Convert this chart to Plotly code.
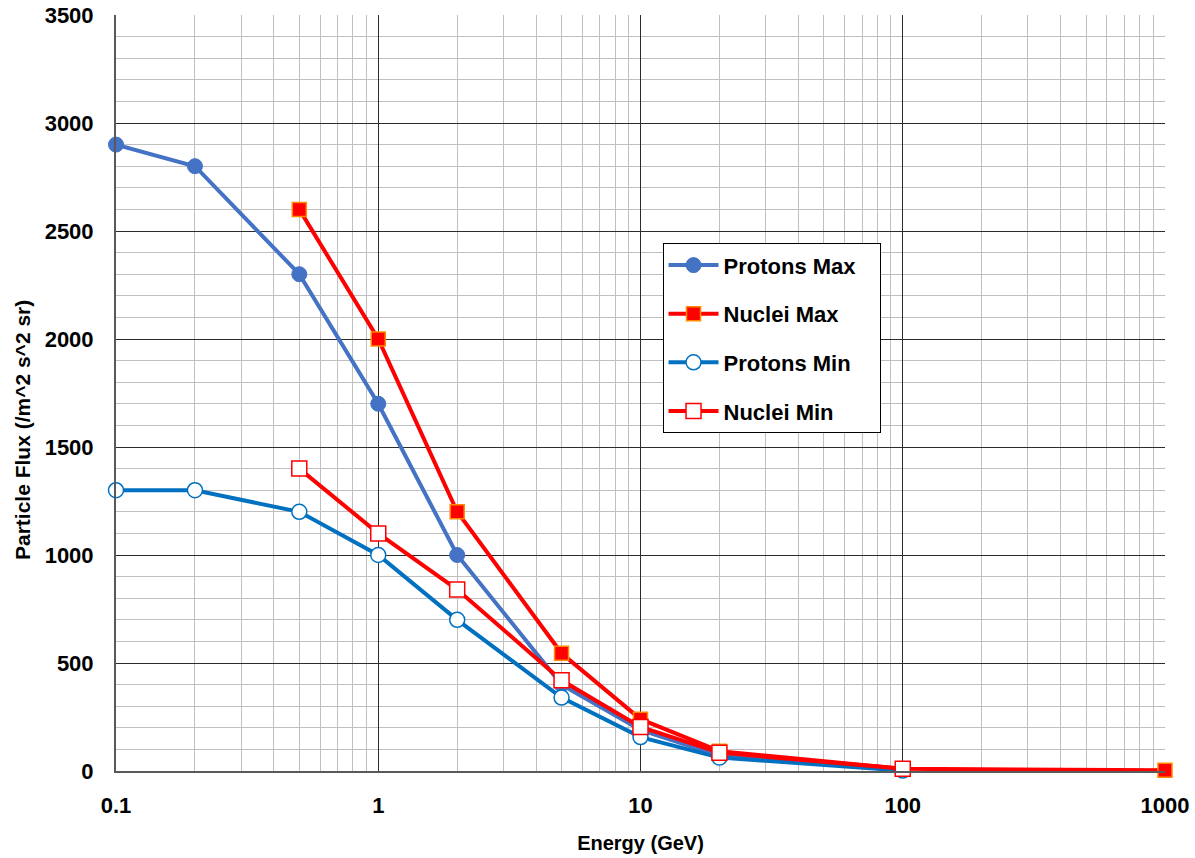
import plotly.graph_objects as go

# Data
energy_p = [0.1, 0.2, 0.5, 1, 2, 5, 10, 20, 100]
protons_max = [2900, 2800, 2300, 1700, 1000, 400, 190, 70, 5]
protons_min = [1300, 1300, 1200, 1000, 700, 340, 157, 62, 2]

energy_n_max = [0.5, 1, 2, 5, 10, 20, 100, 1000]
nuclei_max = [2600, 2000, 1200, 545, 240, 92, 10, 3]
energy_n_min = [0.5, 1, 2, 5, 10, 20, 100]
nuclei_min = [1400, 1100, 840, 420, 204, 85, 10]

x_ticks = [0.1, 1, 10, 100, 1000]
x_tick_labels = ["0.1", "1", "10", "100", "1000"]
y_ticks = [0, 500, 1000, 1500, 2000, 2500, 3000, 3500]

FONT = "Liberation Sans"
PAD = "&nbsp;&nbsp;&nbsp;"

fig = go.Figure()
fig.add_trace(go.Scatter(
    x=energy_p, y=protons_max, name="Protons Max" + PAD, mode="lines+markers",
    line=dict(color="#4472C4", width=4), cliponaxis=False,
    marker=dict(symbol="circle", size=15, color="#4472C4", line=dict(color="#4472C4", width=1)),
    legendgroup="a"))
fig.add_trace(go.Scatter(
    x=energy_n_max, y=nuclei_max, name="Nuclei Max" + PAD, mode="lines+markers",
    line=dict(color="#FF0000", width=4), cliponaxis=False,
    marker=dict(symbol="square", size=14, color="#FF0000", line=dict(color="#FF8A00", width=1.5)),
    legendgroup="b"))
fig.add_trace(go.Scatter(
    x=energy_p, y=protons_min, name="Protons Min" + PAD, mode="lines+markers",
    line=dict(color="#0070C0", width=4), cliponaxis=False,
    marker=dict(symbol="circle", size=15, color="white", line=dict(color="#0070C0", width=1.5)),
    legendgroup="c"))
fig.add_trace(go.Scatter(
    x=energy_n_min, y=nuclei_min, name="Nuclei Min" + PAD, mode="lines+markers",
    line=dict(color="#FF0000", width=4), cliponaxis=False,
    marker=dict(symbol="square", size=15, color="white", line=dict(color="#FF0000", width=1.5)),
    legendgroup="d"))

fig.update_layout(
    width=1195, height=858,
    margin=dict(l=116, r=30, t=15, b=87),
    paper_bgcolor="white", plot_bgcolor="white",
    font=dict(family=FONT, size=20, color="black"),
    legend=dict(
        x=0.521, y=0.698, xanchor="left", yanchor="top",
        bgcolor="white", bordercolor="black", borderwidth=1,
        font=dict(family=FONT, size=22, color="black", weight="bold"),
        tracegroupgap=17, itemwidth=50,
    ),
    xaxis=dict(
        type="log", range=[-1, 3], automargin=False,
        tickvals=x_ticks, ticktext=x_tick_labels,
        tickfont=dict(family=FONT, size=22, weight="bold"),
        showgrid=True, gridcolor="#2b2b2b", gridwidth=1,
        minor=dict(dtick="D1", showgrid=True, gridcolor="#bfbfbf", gridwidth=1, ticks=""),
        showline=True, linecolor="#595959", linewidth=2,
        ticks="", ticklabelstandoff=14, zeroline=False,
        title=dict(text="<b>Energy (GeV)</b>", font=dict(family=FONT, size=20), standoff=19),
    ),
    yaxis=dict(
        range=[0, 3500], tickvals=y_ticks, automargin=False,
        tickfont=dict(family=FONT, size=22, weight="bold"),
        showgrid=True, gridcolor="#2b2b2b", gridwidth=1,
        minor=dict(dtick=100, showgrid=True, gridcolor="#bfbfbf", gridwidth=1, ticks=""),
        showline=True, linecolor="#595959", linewidth=2,
        ticks="", ticklabelstandoff=16, zeroline=False,
    ),
    annotations=[dict(
        text="<b>Particle Flux (/m^2 s^2 sr)</b>", textangle=-90,
        xref="paper", yref="paper", x=-0.0896, y=0.451,
        xanchor="center", yanchor="middle", showarrow=False,
        font=dict(family=FONT, size=21, color="black"),
    )],
)

fig.write_html("out.html", config={"displayModeBar": False},
               post_script="document.body.style.margin='0';")
